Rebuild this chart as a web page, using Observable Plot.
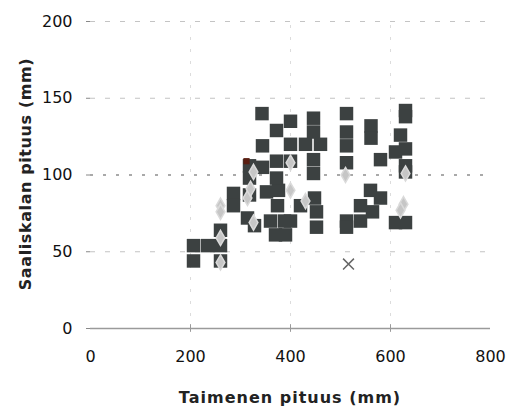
<!DOCTYPE html>
<html>
<head>
<meta charset="utf-8">
<script src="https://cdn.jsdelivr.net/npm/d3@7"></script>
<script src="https://cdn.jsdelivr.net/npm/@observablehq/plot@0.6"></script>
<style>
  html, body { margin: 0; padding: 0; background: #fff; }
  #chart { width: 507px; height: 413px; }
</style>
</head>
<body>
<div id="chart"></div>
<script>
// Taimenen pituus (mm) vs. saaliskalan pituus (mm)
const xTicks = [0, 200, 400, 600, 800];
const yTicks = [0, 50, 100, 150, 200];

// Dark squares: [trout length, prey length]
const squareX = [206, 206, 234, 260, 260, 260, 286, 286, 318, 318, 318, 314, 328,
  344, 344, 343, 352, 376, 372, 372, 372, 374, 360, 388, 400, 370, 390,
  400, 400, 400, 420, 430, 460, 446, 446, 446, 446, 448, 452, 452,
  512, 512, 512, 512, 512, 512, 540, 540, 561, 561, 560, 564, 580, 580,
  610, 610, 620, 630, 630, 630, 630, 630, 630];
const squareY = [54, 44, 54, 64, 54, 44, 88, 80, 106, 98, 87, 72, 67,
  105, 119, 140, 89, 90, 129, 109, 98, 80, 70, 70, 70, 61, 61,
  135, 120, 109, 80, 120, 120, 137, 128, 110, 101, 85, 76, 66,
  140, 128, 119, 108, 70, 66, 80, 70, 132, 124, 90, 76, 110, 85,
  115, 69, 126, 142, 138, 117, 106, 102, 69];

// Light grey diamonds
const diamondX = [260, 260, 260, 260, 314, 320, 326, 326, 400, 400, 430, 510, 630, 626, 620];
const diamondY = [80, 76, 59, 43, 85, 91, 102, 69, 108, 90, 83, 100, 101, 81, 77];

// Crosses
const crossX = [516];
const crossY = [42];

// Brown marker
const brownX = [312];
const brownY = [109];

const squares = squareX.map((x, i) => ({x, y: squareY[i]}));
const diamonds = diamondX.map((x, i) => ({x, y: diamondY[i]}));
const crosses = crossX.map((x, i) => ({x, y: crossY[i]}));
const browns = brownX.map((x, i) => ({x, y: brownY[i]}));

const gridY = [50, 100, 150, 200];
const gridX = [200, 400, 600];

const chart = Plot.plot({
  width: 507,
  height: 413,
  marginLeft: 90,
  marginRight: 17,
  marginTop: 21,
  marginBottom: 85,
  style: {fontFamily: "'DejaVu Sans', sans-serif", fontSize: "16px", color: "#111", background: "#fff"},
  x: {type: "linear", domain: [0, 800]},
  y: {type: "linear", domain: [0, 200]},
  marks: [
    Plot.ruleX(gridX, {y1: 0, y2: 200, stroke: "#dcdcdc", strokeDasharray: "3,9", strokeWidth: 1}),
    Plot.ruleY(gridY.filter(d => d !== 100), {x1: 0, x2: 800, stroke: "#c4c4c4", strokeDasharray: "5,10", strokeWidth: 1.2}),
    Plot.ruleY([100], {x1: 0, x2: 800, stroke: "#555", strokeDasharray: "3,10", strokeWidth: 1.2}),
    Plot.ruleY([0], {x1: 0, x2: 800, stroke: "#9a9a9a", strokeWidth: 1.3}),
    Plot.ruleX(gridX, {y1: -2.5, y2: 2.5, stroke: "#9a9a9a", clip: false}),
    Plot.axisX({ticks: xTicks, tickSize: 0, tickPadding: 22, fontSize: 16, label: null}),
    Plot.axisY({ticks: yTicks, tickSize: 4, tickPadding: 14, stroke: "#888", fontSize: 16, label: null}),
    Plot.dot(squares, {x: "x", y: "y", symbol: "square", r: 7.6, fill: "#3c4141", stroke: "none"}),
    Plot.dot(diamonds, {x: "x", y: "y", symbol: "diamond", r: 4.6, fill: "#c6c6c6", stroke: "#dadada", strokeWidth: 1.5}),
    Plot.dot(crosses, {x: "x", y: "y", symbol: "times", r: 5, stroke: "#666", strokeWidth: 1.5}),
    Plot.dot(browns, {x: "x", y: "y", symbol: "square", r: 3.5, fill: "#5a1e12"})
  ]
});

// Axis titles added as real text into the SVG
const svg = d3.select(chart);
svg.append("text")
  .attr("x", 290).attr("y", 403)
  .attr("text-anchor", "middle")
  .attr("font-family", "'DejaVu Sans', sans-serif")
  .attr("font-size", 16).attr("font-weight", "bold").attr("fill", "#222")
  .style("letter-spacing", "1px")
  .text("Taimenen pituus (mm)");
svg.append("text")
  .attr("transform", "translate(31,174) rotate(-90)")
  .attr("text-anchor", "middle")
  .attr("font-family", "'DejaVu Sans', sans-serif")
  .attr("font-size", 16).attr("font-weight", "bold").attr("fill", "#222")
  .style("letter-spacing", "0.6px")
  .text("Saaliskalan pituus (mm)");

document.getElementById("chart").appendChild(chart);
</script>
</body>
</html>
